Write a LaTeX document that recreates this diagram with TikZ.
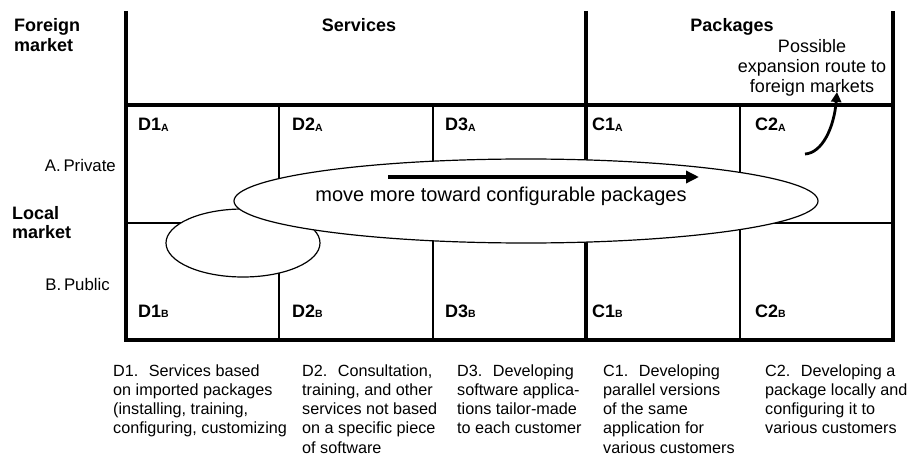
\documentclass[tikz,border=0pt]{standalone}
\usepackage{fontspec}
\setmainfont{Liberation Sans}
\usetikzlibrary{arrows.meta}
\newcommand\cellsub[1]{\raisebox{-0.6pt}{\fontsize{10.5pt}{10.5pt}\selectfont\bfseries #1}}
\begin{document}
\begin{tikzpicture}[x=1pt,y=-1pt,
  thickline/.style={line width=3.6pt},
  thinline/.style={line width=1.2pt},
  desc/.style={anchor=base west, align=left, inner sep=0pt, font=\fontsize{16.2pt}{19.3pt}\selectfont},
  headtxt/.style={inner sep=0pt, align=left, font=\fontsize{18pt}{20pt}\selectfont\bfseries},
  celltxt/.style={anchor=base west, inner sep=0pt, font=\fontsize{18pt}{20pt}\selectfont\bfseries},
  rowtxt/.style={anchor=base east, inner sep=0pt, font=\fontsize{16.8pt}{20pt}\selectfont},
]
\useasboundingbox (0,0) rectangle (909,454);
% grid thin lines
\draw[thinline] (279,105) -- (279,340);
\draw[thinline] (433,105) -- (433,340);
\draw[thinline] (740,105) -- (740,340);
\draw[thinline] (126,223) -- (893,223);
% thick frame
\draw[thickline] (126,11) -- (126,340) -- (893,340) -- (893,11);
\draw[thickline] (126,105) -- (893,105);
\draw[thickline] (586,11) -- (586,340);
% ellipses
\draw[line width=1.2pt, fill=white] (243,243) ellipse [x radius=77, y radius=34];
\draw[line width=1.2pt, fill=white] (526,201) ellipse [x radius=292, y radius=42];
% arrow
\coordinate (mvA) at (388,177);
\coordinate (mvB) at (699,177);
\draw[line width=3.6pt, -{Triangle[length=13pt,width=12pt]}] (mvA) -- (mvB);
\node[inner sep=0pt, anchor=base, font=\fontsize{20pt}{22pt}\selectfont] (move) at (501,202) {move more toward configurable packages};
% curved arrow
\coordinate (exA) at (805,154);
\coordinate (exB) at (837,92);
\draw[line width=2.8pt, -{Triangle[length=10pt,width=10pt]}] (exA) .. controls (822,153) and (834,128) .. (exB);
% headings (base = last line's baseline)
\node[headtxt, anchor=base west] (foreign) at (14,52) {Foreign\\market};
\node[headtxt, anchor=base west] (local) at (12,239) {Local\\market};
\node[headtxt, anchor=base] (services) at (359,32) {Services};
\node[headtxt, anchor=base] (packages) at (732,32) {Packages};
\node[inner sep=0pt, anchor=base, align=center, font=\fontsize{18pt}{20pt}\selectfont] (possible) at (812,93) {Possible\\expansion route to\\foreign markets};
\node[rowtxt] (priv) at (116,172) {A.\,Private};
\node[rowtxt] (pub) at (110,290) {B.\,Public};
% cells
\node[celltxt] (d1a) at (138,131) {D1\cellsub{A}};
\node[celltxt] (d2a) at (292,131) {D2\cellsub{A}};
\node[celltxt] (d3a) at (445,131) {D3\cellsub{A}};
\node[celltxt] (c1a) at (592,131) {C1\cellsub{A}};
\node[celltxt] (c2a) at (755,131) {C2\cellsub{A}};
\node[celltxt] (d1b) at (138,317) {D1\cellsub{B}};
\node[celltxt] (d2b) at (292,317) {D2\cellsub{B}};
\node[celltxt] (d3b) at (445,317) {D3\cellsub{B}};
\node[celltxt] (c1b) at (592,317) {C1\cellsub{B}};
\node[celltxt] (c2b) at (755,317) {C2\cellsub{B}};
% descriptions (base = last line's baseline)
\node[desc] (t1) at (113,433.9) {D1.~ Services based\\on imported packages\\(installing, training,\\configuring, customizing};
\node[desc] (t2) at (302,453.2) {D2.~ Consultation,\\training, and other\\services not based\\on a specific piece\\of software};
\node[desc] (t3) at (457,433.9) {D3.~ Developing\\software applica-\\tions tailor-made\\to each customer};
\node[desc] (t4) at (603,453.2) {C1.~ Developing\\parallel versions\\of the same\\application for\\various customers};
\node[desc] (t5) at (765,433.9) {C2.~ Developing a\\package locally and\\configuring it to\\various customers};
\end{tikzpicture}
\end{document}
